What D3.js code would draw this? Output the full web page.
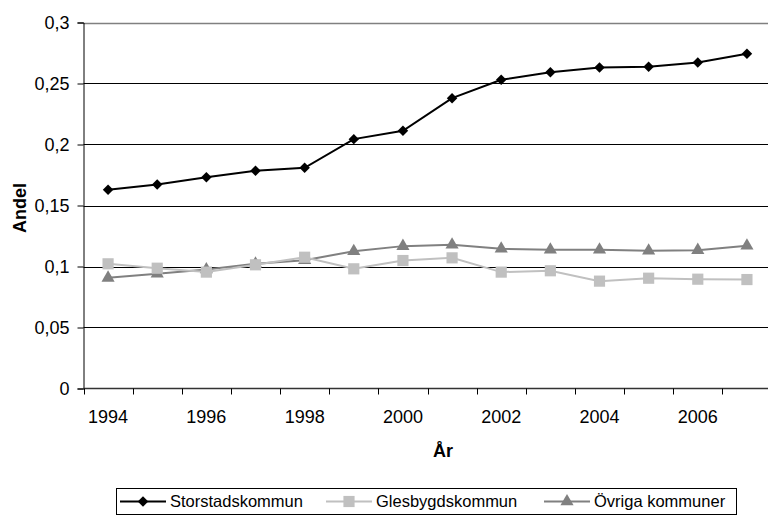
<!DOCTYPE html>
<html>
<head>
<meta charset="utf-8">
<script src="https://cdn.jsdelivr.net/npm/d3@7"></script>
<style>
  body { margin: 0; background: #fff; }
  svg text { font-family: "Liberation Sans", Arial, sans-serif; fill: #000; }
</style>
</head>
<body>
<div id="chart"></div>
<script>
const years = [1994, 1995, 1996, 1997, 1998, 1999, 2000, 2001, 2002, 2003, 2004, 2005, 2006, 2007];
const storstad = [0.1629, 0.1672, 0.1732, 0.1784, 0.1809, 0.2044, 0.2112, 0.2380, 0.2530, 0.2593, 0.2631, 0.2637, 0.2672, 0.2743];
const glesbygd = [0.1022, 0.0986, 0.0954, 0.1014, 0.1076, 0.0981, 0.1049, 0.1071, 0.0954, 0.0965, 0.0880, 0.0904, 0.0896, 0.0893];
const ovriga = [0.0907, 0.0940, 0.0975, 0.1022, 0.1052, 0.1125, 0.1167, 0.1178, 0.1145, 0.1137, 0.1137, 0.1129, 0.1134, 0.1170];
const yTicks = [0, 0.05, 0.1, 0.15, 0.2, 0.25, 0.3];
const xLabels = [1994, 1996, 1998, 2000, 2002, 2004, 2006];

const series = [
  { name: "Storstadskommun", values: storstad, color: "#000000", symbol: d3.symbolDiamond2, size: 70 },
  { name: "Glesbygdskommun", values: glesbygd, color: "#c0c0c0", symbol: d3.symbolSquare, size: 125 },
  { name: "Övriga kommuner", values: ovriga, color: "#808080", symbol: d3.symbolTriangle, size: 75 }
];

const width = 768, height = 520;
const plot = { left: 83.5, right: 771.5, top: 22.5, bottom: 388.5 };

const svg = d3.select("#chart").append("svg")
  .attr("width", width)
  .attr("height", height);

const x = d3.scaleBand()
  .domain(years)
  .range([plot.left, plot.right]);

const y = d3.scaleLinear()
  .domain([0, 0.3])
  .range([plot.bottom, plot.top]);

const fmt = d => String(d).replace(".", ",");

// gridlines
svg.append("g")
  .selectAll("line")
  .data(yTicks.filter(d => d > 0))
  .enter().append("line")
  .attr("x1", plot.left)
  .attr("x2", plot.right)
  .attr("y1", d => Math.round(y(d)) + 0.5)
  .attr("y2", d => Math.round(y(d)) + 0.5)
  .attr("stroke", d => d === 0.3 ? "#808080" : "#000")
  .attr("stroke-width", d => d === 0.3 ? 1.5 : 1);

// y axis
const yAxis = svg.append("g")
  .attr("transform", `translate(${plot.left},0)`)
  .call(d3.axisLeft(y).tickValues(yTicks).tickFormat(fmt).tickSize(6).tickPadding(8));
yAxis.selectAll("text").style("font-size", "18px");
yAxis.selectAll("line,path").attr("stroke", "#000");

// x axis
const xAxis = svg.append("g")
  .attr("transform", `translate(0,${plot.bottom})`)
  .call(d3.axisBottom(x).tickValues(years).tickSize(0).tickPadding(22)
    .tickFormat(d => xLabels.includes(d) ? d : ""));
xAxis.select("path").attr("stroke", "#333").attr("stroke-width", 1.5).attr("d", `M${plot.left},0H${plot.right}`);
xAxis.selectAll("text").style("font-size", "18px");

// tick marks between categories
svg.append("g")
  .selectAll("line")
  .data(years)
  .enter().append("line")
  .attr("x1", d => Math.round(x(d)) + 0.5)
  .attr("x2", d => Math.round(x(d)) + 0.5)
  .attr("y1", plot.bottom)
  .attr("y2", plot.bottom + 6)
  .attr("stroke", "#000");

// lines and markers
const line = d3.line()
  .x((d, i) => x(years[i]) + x.bandwidth() / 2)
  .y(d => y(d));

series.slice().reverse().forEach(s => {
  svg.append("path")
    .datum(s.values)
    .attr("fill", "none")
    .attr("stroke", s.color)
    .attr("stroke-width", 2)
    .attr("d", line);
  svg.append("g")
    .selectAll("path")
    .data(s.values)
    .enter().append("path")
    .attr("transform", (d, i) => `translate(${x(years[i]) + x.bandwidth() / 2},${y(d)})`)
    .attr("d", d3.symbol().type(s.symbol).size(s.size))
    .attr("fill", s.color);
});

// axis titles
svg.append("text")
  .attr("transform", `translate(26,208) rotate(-90)`)
  .attr("text-anchor", "middle")
  .style("font-size", "18px")
  .attr("font-weight", "bold")
  .text("Andel");

svg.append("text")
  .attr("x", 443)
  .attr("y", 457)
  .attr("text-anchor", "middle")
  .style("font-size", "18px")
  .attr("font-weight", "bold")
  .text("År");

// legend
const legend = svg.append("g");
legend.append("rect")
  .attr("x", 116.5)
  .attr("y", 488.5)
  .attr("width", 620)
  .attr("height", 26)
  .attr("fill", "#fff")
  .attr("stroke", "#000");

const legendX = [120, 326, 544];
series.forEach((s, i) => {
  const g = legend.append("g").attr("transform", `translate(${legendX[i]},501.5)`);
  g.append("line")
    .attr("x1", 0).attr("x2", 46)
    .attr("stroke", s.color)
    .attr("stroke-width", 2);
  g.append("path")
    .attr("transform", "translate(23,0)")
    .attr("d", d3.symbol().type(s.symbol).size(s.size))
    .attr("fill", s.color);
  g.append("text")
    .attr("x", 50)
    .attr("dy", "0.35em")
    .style("font-size", "16.5px")
    .text(s.name);
});
</script>
</body>
</html>
